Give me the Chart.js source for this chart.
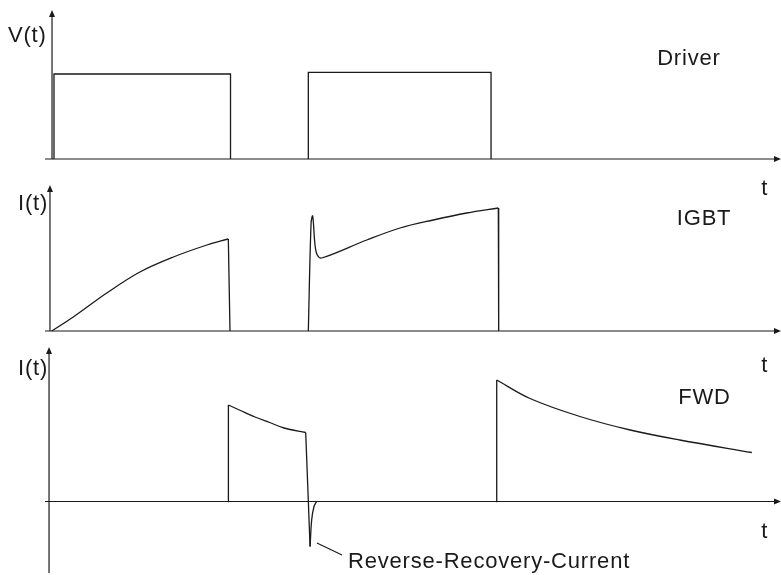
<!DOCTYPE html>
<html>
<head>
<meta charset="utf-8">
<script src="https://cdn.jsdelivr.net/npm/chart.js@4.4.1/dist/chart.umd.min.js"></script>
<style>
  html, body { margin: 0; padding: 0; background: #ffffff; }
  #wrap { position: relative; width: 781px; height: 575px; }
</style>
</head>
<body>
<div id="wrap"><canvas id="switchingChart"></canvas></div>
<script>
// Switching waveforms: gate driver, IGBT current, free-wheeling diode current
// time in arbitrary units, amplitudes normalised

// Driver voltage, two pulses
const drvPulse1T = [0.41, 0.41, 24.64, 24.64];
const drvPulse1V = [0, 1.0, 1.0, 0];
const drvPulse2T = [35.32, 35.32, 60.4, 60.4];
const drvPulse2V = [0, 1.02, 1.02, 0];

// IGBT current: first on-phase, turn-on spike + second on-phase
const igbtRiseT = [0.1, 3.06, 7.65, 12.2, 16.8, 21.4, 24.34];
const igbtRiseI = [0, 0.14, 0.38, 0.59, 0.74, 0.86, 0.92];
const igbtOnT = [35.32, 35.7, 35.92, 36.24, 36.55, 37.16, 43.34, 47.91, 52.48, 57.06, 61.4];
const igbtOnI = [0, 1.08, 1.15, 0.86, 0.76, 0.73, 0.91, 1.03, 1.11, 1.18, 1.23];
const igbtOffT = [24.34, 24.57, 61.4, 61.45];
const igbtOffI = [0.92, 0, 1.23, 0];

// FWD current: free-wheeling decays and reverse recovery dip
const fwdDecay1T = [24.35, 26.0, 28.0, 30.0, 32.0, 34.96];
const fwdDecay1I = [0.965, 0.91, 0.845, 0.79, 0.735, 0.69];
const fwdRecoveryT = [35.56, 35.78, 36.1, 36.46];
const fwdRecoveryI = [-0.45, -0.185, -0.05, 0];
const fwdDecay2T = [61.18, 65.75, 72.6, 79.5, 86.3, 96.2];
const fwdDecay2I = [1.215, 1.03, 0.85, 0.715, 0.615, 0.49];
const fwdEdgeT = [24.3, 24.35, 34.96, 35.56, 61.1, 61.18];
const fwdEdgeI = [0, 0.965, 0.69, -0.45, 0, 1.215];

const panelNames = ["Driver", "IGBT", "FWD"];
const axisNames = ["V(t)", "I(t)", "I(t)"];
const timeName = "t";
const recoveryNote = "Reverse-Recovery-Current";

const INK = "#1a1a1a";
const H = 575;

// each panel gets its own y scale spanning the whole canvas, offset by its baseline
function panelRange(baselinePx, pxPerUnit) {
  return { min: -(H - baselinePx) / pxPerUnit, max: baselinePx / pxPerUnit };
}

// join pieces into one point list, a null point breaks the line between them
function joinPieces(pieces) {
  const out = [];
  pieces.forEach(([xs, ys], k) => {
    if (k > 0) out.push({ x: xs[0], y: null });
    xs.forEach((x, i) => out.push({ x: x, y: ys[i] }));
  });
  return out;
}

// edges come in pairs of points
function pairs(xs, ys) {
  const pieces = [];
  for (let i = 0; i < xs.length; i += 2) {
    pieces.push([xs.slice(i, i + 2), ys.slice(i, i + 2)]);
  }
  return pieces;
}

const panels = [
  { id: "yDrv", axisT: 0.14, from: 0, to: 1.753, range: panelRange(159, 85),
    name: { t: 83.2, v: 1.106 }, yName: { t: -5.9, v: 1.376 } },
  { id: "yIgbt", axisT: -0.14, from: 0, to: 1.46, range: panelRange(331, 100),
    name: { t: 85.9, v: 1.06 }, yName: { t: -4.53, v: 1.21 } },
  { id: "yFwd", axisT: -0.27, from: -0.715, to: 1.545, range: panelRange(501.5, 100),
    name: { t: 86.1, v: 0.975 }, yName: { t: -4.53, v: 1.265 } },
];

// "t" labels: under the driver axis, above the FWD area, under the FWD axis
const tLabels = [
  { id: "yDrv", t: 97.5, v: -0.424 },
  { id: "yFwd", t: 97.5, v: 1.3 },
  { id: "yFwd", t: 97.5, v: -0.365 },
];

const axesPlugin = {
  id: "arrowAxes",
  beforeDatasetsDraw(chart) {
    const ctx = chart.ctx;
    const xs = chart.scales.x;
    const right = chart.chartArea.right;
    ctx.save();
    ctx.strokeStyle = INK;
    ctx.fillStyle = INK;
    ctx.lineWidth = 1.2;
    panels.forEach(p => {
      const ys = chart.scales[p.id];
      const x0 = xs.getPixelForValue(p.axisT);
      const yb = ys.getPixelForValue(0);
      const yTop = ys.getPixelForValue(p.to);
      const yBot = ys.getPixelForValue(p.from);
      // time axis
      ctx.beginPath();
      ctx.moveTo(xs.getPixelForValue(-0.82), yb);
      ctx.lineTo(right - 5, yb);
      ctx.stroke();
      ctx.beginPath();
      ctx.moveTo(right, yb);
      ctx.lineTo(right - 7, yb - 3);
      ctx.lineTo(right - 7, yb + 3);
      ctx.closePath();
      ctx.fill();
      // value axis
      ctx.beginPath();
      ctx.moveTo(x0, yBot);
      ctx.lineTo(x0, yTop + 5);
      ctx.stroke();
      ctx.beginPath();
      ctx.moveTo(x0, yTop);
      ctx.lineTo(x0 - 3, yTop + 7);
      ctx.lineTo(x0 + 3, yTop + 7);
      ctx.closePath();
      ctx.fill();
    });
    ctx.restore();
  },
  afterDatasetsDraw(chart) {
    const ctx = chart.ctx;
    const xs = chart.scales.x;
    ctx.save();
    ctx.fillStyle = INK;
    ctx.font = '22px "Liberation Sans", Arial, sans-serif';
    ctx.letterSpacing = "0.8px";
    ctx.textBaseline = "alphabetic";
    ctx.textAlign = "left";
    const put = (txt, ys, pos) => ctx.fillText(txt, xs.getPixelForValue(pos.t), ys.getPixelForValue(pos.v));
    panels.forEach((p, i) => {
      const ys = chart.scales[p.id];
      put(panelNames[i], ys, p.name);
      put(axisNames[i], ys, p.yName);
    });
    tLabels.forEach(l => put(timeName, chart.scales[l.id], l));
    // reverse recovery note with leader line
    const yf = chart.scales.yFwd;
    ctx.strokeStyle = INK;
    ctx.lineWidth = 1.2;
    ctx.beginPath();
    ctx.moveTo(xs.getPixelForValue(36.5), yf.getPixelForValue(-0.415));
    ctx.lineTo(xs.getPixelForValue(39.95), yf.getPixelForValue(-0.535));
    ctx.stroke();
    put(recoveryNote, yf, { t: 40.77, v: -0.665 });
    ctx.restore();
  }
};

const straight = {
  borderColor: INK,
  borderWidth: 1.3,
  pointRadius: 0,
  fill: false,
  spanGaps: false,
  tension: 0,
};
const smooth = { ...straight, tension: 0.35 };

const yScales = {};
panels.forEach(p => {
  yScales[p.id] = { type: "linear", display: false, min: p.range.min, max: p.range.max };
});

new Chart(document.getElementById("switchingChart"), {
  type: "line",
  data: {
    datasets: [
      { ...straight, label: "Driver", yAxisID: "yDrv",
        data: joinPieces([[drvPulse1T, drvPulse1V], [drvPulse2T, drvPulse2V]]) },
      { ...smooth, label: "IGBT", yAxisID: "yIgbt",
        data: joinPieces([[igbtRiseT, igbtRiseI], [igbtOnT, igbtOnI]]) },
      { ...straight, label: "IGBT edges", yAxisID: "yIgbt",
        data: joinPieces(pairs(igbtOffT, igbtOffI)) },
      { ...smooth, label: "FWD", yAxisID: "yFwd",
        data: joinPieces([[fwdDecay1T, fwdDecay1I], [fwdRecoveryT, fwdRecoveryI], [fwdDecay2T, fwdDecay2I]]) },
      { ...straight, label: "FWD edges", yAxisID: "yFwd",
        data: joinPieces(pairs(fwdEdgeT, fwdEdgeI)) },
    ],
  },
  options: {
    responsive: true,
    maintainAspectRatio: false,
    animation: false,
    layout: { padding: 0 },
    plugins: {
      legend: { display: false },
      tooltip: { enabled: false },
    },
    scales: {
      x: { type: "linear", display: false, min: -7.0, max: 100.2 },
      ...yScales,
    },
  },
  plugins: [axesPlugin],
});
</script>
</body>
</html>
